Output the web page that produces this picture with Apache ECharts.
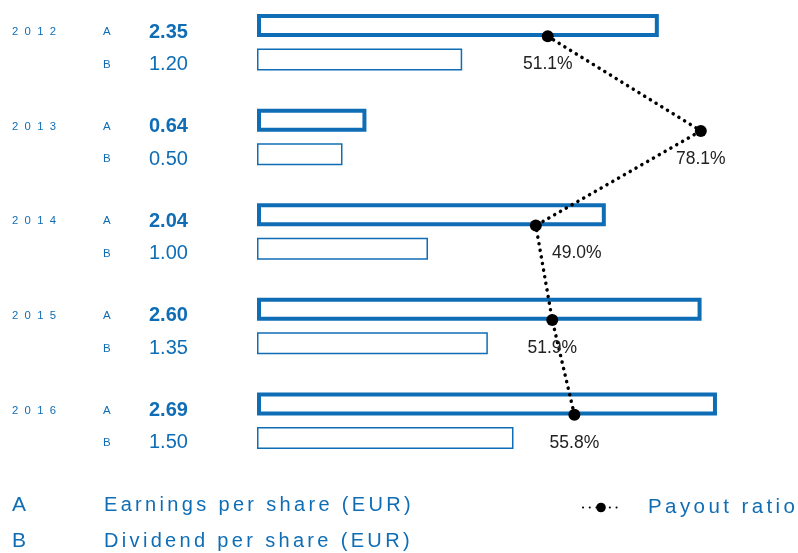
<!DOCTYPE html>
<html>
<head>
<meta charset="utf-8">
<script src="https://cdn.jsdelivr.net/npm/echarts@6/dist/echarts.min.js"></script>
</head>
<body style="margin:0">
<div id="main" style="width:798px;height:553px;"></div>
<script>
var years = ['2012', '2013', '2014', '2015', '2016'];
var earnings = [2.35, 0.64, 2.04, 2.60, 2.69];
var dividend = [1.20, 0.50, 1.00, 1.35, 1.50];
var payout = [51.1, 78.1, 49.0, 51.9, 55.8];

var blue = '#0f6db5';
var font = '"Liberation Sans", Arial, sans-serif';

// letter spacing by hand, canvas text has none
function spaced(s, sp) { return s.split('').join(sp); }

function rowLabel(key, bold, dy, withYear) {
  return {
    show: true,
    position: 'left',
    distance: 68,
    offset: [0, dy],
    formatter: function (p) {
      var y = withYear ? '{y|' + spaced(years[p.dataIndex], '\u2007') + '}' : '';
      return y + '{k|' + key + '}{v|' + p.value.toFixed(2) + '}';
    },
    rich: {
      y: {width: 91, align: 'left', fontSize: 11.3, color: blue, fontFamily: font},
      k: {width: 46, align: 'left', fontSize: 11.5, color: blue, fontFamily: font},
      v: {width: 40, align: 'left', fontSize: 20, fontWeight: bold ? 'bold' : 'normal', color: blue, fontFamily: font}
    }
  };
}

var chart = echarts.init(document.getElementById('main'));
chart.setOption({
  animation: false,
  grid: [
    {left: 257, width: 567, top: -5, height: 473, outerBoundsMode: 'none'},
    {left: 258, width: 567, top: -11, height: 473, outerBoundsMode: 'none'}
  ],
  xAxis: [
    {gridIndex: 0, type: 'value', min: 0, max: 3.316, show: false},
    {gridIndex: 1, type: 'value', min: 0, max: 100, show: false}
  ],
  yAxis: [
    {gridIndex: 0, type: 'category', data: years, inverse: true, show: false},
    {gridIndex: 1, type: 'category', data: years, inverse: true, show: false}
  ],
  legend: {
    data: ['Payout ratio'],
    left: 582, top: 497, padding: 0,
    itemWidth: 36, itemHeight: 12,
    formatter: function (n) { return spaced(n, '\u2006'); },
    textStyle: {color: blue, fontSize: 20.5, fontFamily: font, padding: [0, 0, 0, 24]}
  },
  graphic: [
    {type: 'text', x: 12, y: 505, style: {text: 'A', fontSize: 21, fill: blue, fontFamily: font, verticalAlign: 'middle'}},
    {type: 'text', x: 104, y: 505, style: {text: spaced('Earnings per share (EUR)', '\u2006'), fontSize: 20, fill: blue, fontFamily: font, verticalAlign: 'middle'}},
    {type: 'text', x: 12, y: 541, style: {text: 'B', fontSize: 21, fill: blue, fontFamily: font, verticalAlign: 'middle'}},
    {type: 'text', x: 104, y: 541, style: {text: spaced('Dividend per share (EUR)', '\u2006'), fontSize: 20, fill: blue, fontFamily: font, verticalAlign: 'middle'}}
  ],
  series: [
    {
      name: 'Earnings per share (EUR)',
      type: 'bar', xAxisIndex: 0, yAxisIndex: 0,
      data: earnings,
      barWidth: 23, barGap: '50%',
      itemStyle: {color: '#fff', borderColor: blue, borderWidth: 4},
      label: rowLabel('A', true, 6.5, true)
    },
    {
      name: 'Dividend per share (EUR)',
      type: 'bar', xAxisIndex: 0, yAxisIndex: 0,
      data: dividend,
      barWidth: 22,
      itemStyle: {color: '#fff', borderColor: blue, borderWidth: 1.5},
      label: rowLabel('B', false, 5, false)
    },
    {
      name: 'Payout ratio',
      type: 'line', xAxisIndex: 1, yAxisIndex: 1,
      data: payout.map(function (v, i) {
        return i === 2 ? {value: v, label: {offset: [41, 0]}} : v;
      }),
      symbol: 'circle', symbolSize: 12,
      itemStyle: {color: '#000'},
      lineStyle: {color: '#000', width: 3.5, type: [0.1, 6.6], cap: 'round'},
      label: {
        show: true, position: 'bottom', distance: 13,
        formatter: function (p) { return p.value.toFixed(1) + '%'; },
        fontSize: 17.5, color: '#222', fontFamily: font
      }
    }
  ]
});
</script>
</body>
</html>
